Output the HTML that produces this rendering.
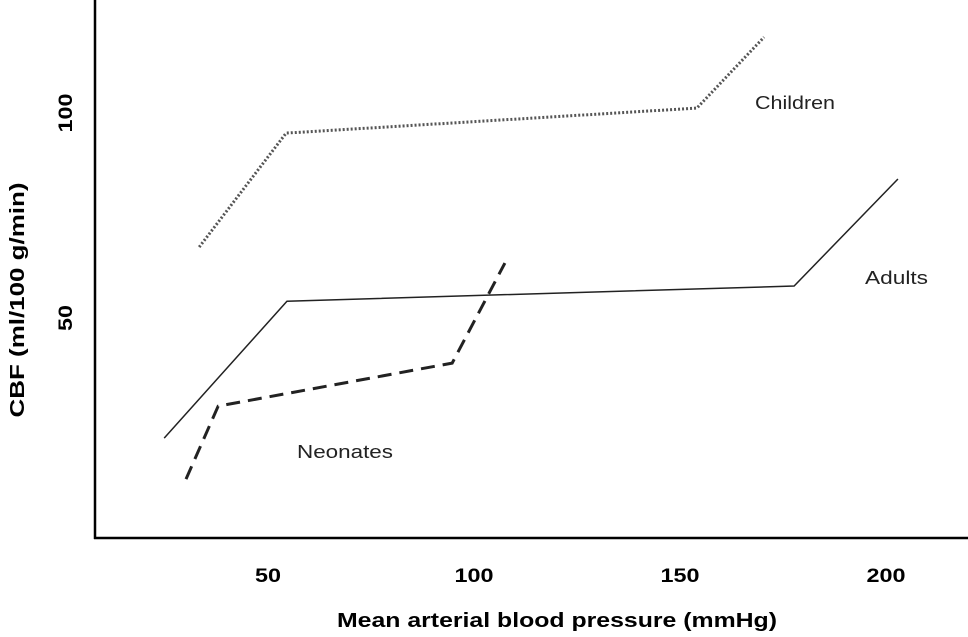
<!DOCTYPE html>
<html><head><meta charset="utf-8"><style>
body{margin:0;background:#fff;}
svg{display:block;font-family:"Liberation Sans",sans-serif;}
</style></head><body>
<svg id="chart" width="968" height="637" viewBox="0 0 968 637">
<g id="axes"></g><g id="series"></g>
</svg>
<script>
const xTicks=[50,100,150,200];
const yTicks=[50,100];
const childrenX=[33.3,54.4,154.1,170.4];
const childrenY=[67.3,95.1,101.2,118.5];
const adultsX=[24.8,54.6,177.7,202.9];
const adultsY=[20.7,54.1,57.8,83.9];
const neonatesX=[30.1,37.9,94.7,107.5];
const neonatesY=[10.7,28.5,39.0,63.4];
const NS="http://www.w3.org/2000/svg";
function xs(v){return 268+(v-50)*4.12;}
function ys(v){return 318-(v-50)*4.1;}
function mk(tag,attrs,parent,text){const e=document.createElementNS(NS,tag);for(const k in attrs)e.setAttribute(k,attrs[k]);if(text!==undefined)e.textContent=text;parent.appendChild(e);return e;}
const axes=document.getElementById('axes'),series=document.getElementById('series');
let e=mk('line',{x1:95,y1:0,x2:95,y2:539,stroke:'#000','stroke-width':2.5},axes);


e=mk('line',{x1:94,y1:538,x2:968,y2:538,stroke:'#000','stroke-width':2.5},axes);


xTicks.forEach(t=>{const s=String(t);const el=mk('text',{x:xs(t),y:582,'text-anchor':'middle','font-size':19,'font-weight':'bold',textLength:s.length*13,lengthAdjust:'spacingAndGlyphs'},axes,s);

});
yTicks.forEach(t=>{const y=ys(t);const s=String(t);const el=mk('text',{x:0,y:0,transform:`translate(72,${y}) rotate(-90)`,'text-anchor':'middle','font-size':19,'font-weight':'bold',textLength:s.length*13,lengthAdjust:'spacingAndGlyphs'},axes,s);

});
e=mk('text',{x:557,y:627,'text-anchor':'middle','font-size':20,'font-weight':'bold',textLength:440,lengthAdjust:'spacingAndGlyphs'},axes,'Mean arterial blood pressure (mmHg)');


e=mk('text',{x:0,y:0,transform:'translate(24,300) rotate(-90)','text-anchor':'middle','font-size':20,'font-weight':'bold',textLength:235,lengthAdjust:'spacingAndGlyphs'},axes,'CBF (ml/100 g/min)');


function line(X,Y,dash,w,name){const pts=X.map((v,i)=>xs(v)+','+ys(Y[i])).join(' ');
const el=mk('polyline',{points:pts,fill:'none',stroke:dash==='dot'?'#555':'#222','stroke-width':w,'stroke-dasharray':dash==='dot'?'2,2':(dash||'none')},series);

}
line(childrenX,childrenY,'dot',3,'children-line');
line(adultsX,adultsY,null,1.5,'adults-line');
line(neonatesX,neonatesY,'14,8',3,'neonates-line');
[['Children',755,109,'children-label',80],['Adults',865,284,'adults-label',63],['Neonates',297,458,'neonates-label',96]].forEach(l=>{
const el=mk('text',{x:l[1],y:l[2],'font-size':18,fill:'#222',textLength:l[4],lengthAdjust:'spacingAndGlyphs'},series,l[0]);

});
</script>
</body></html>
